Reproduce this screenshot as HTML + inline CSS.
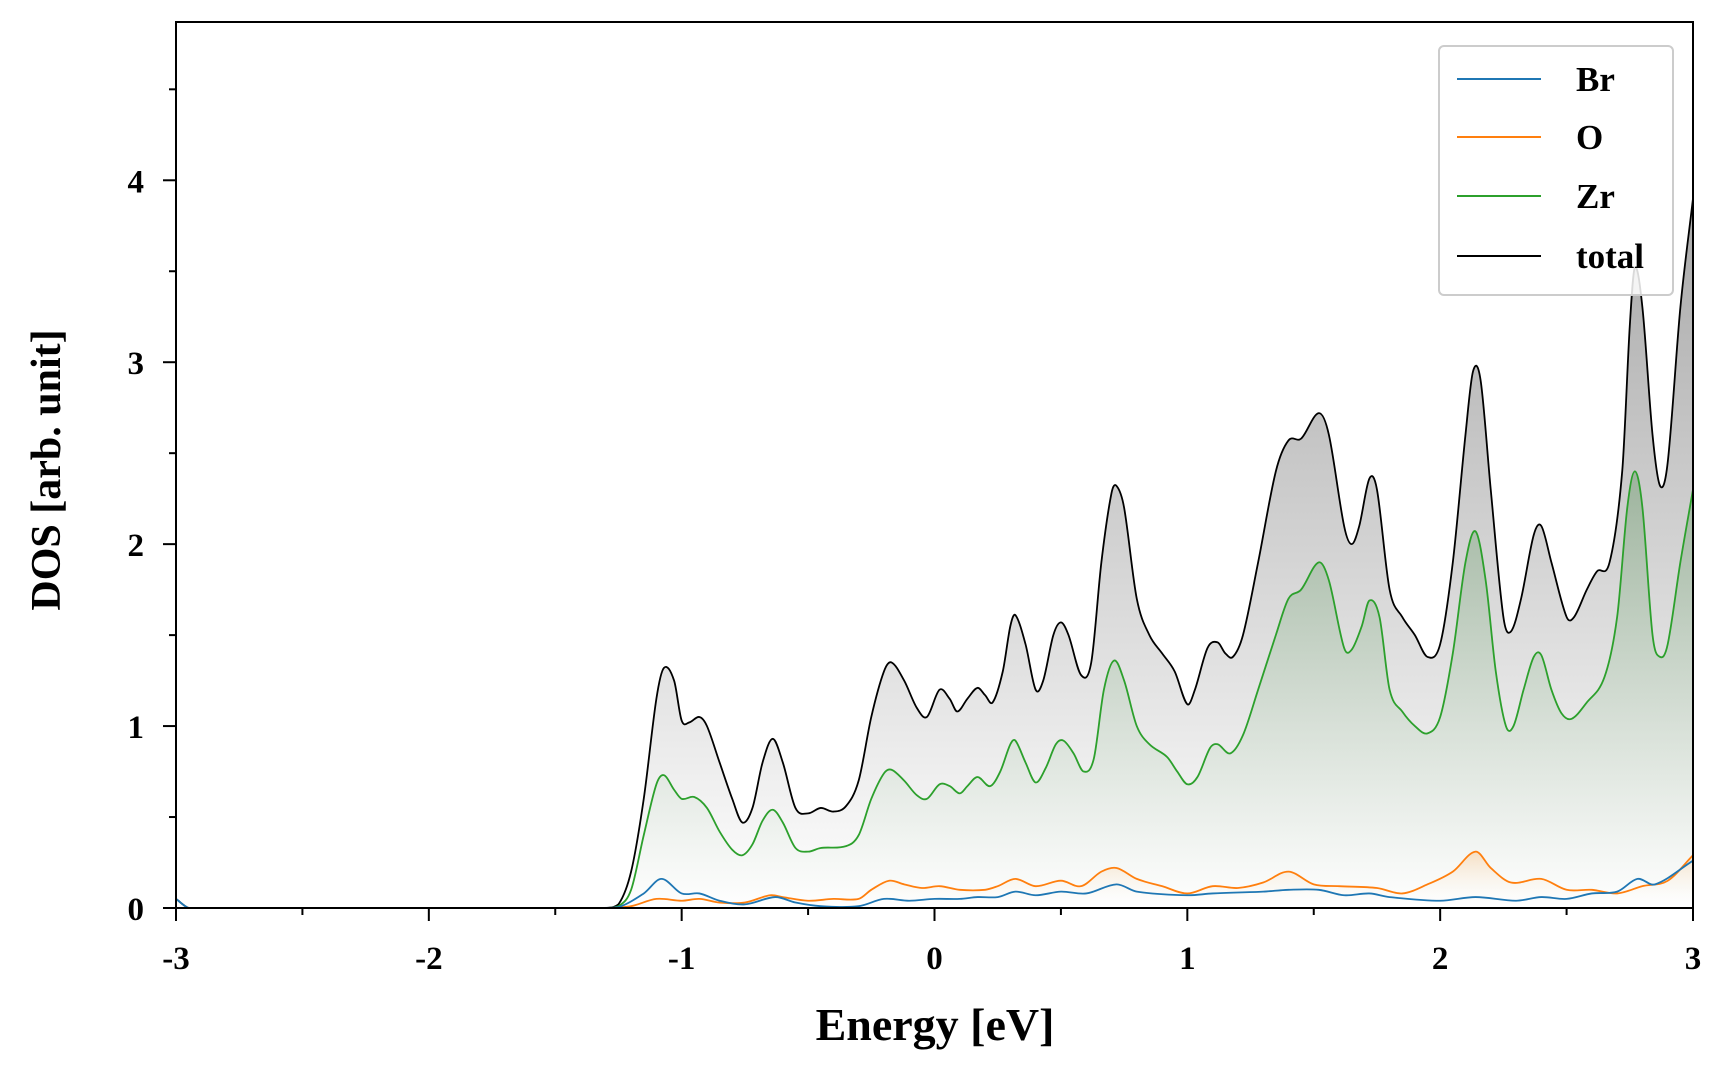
<!DOCTYPE html>
<html><head><meta charset="utf-8"><style>
html,body{margin:0;padding:0;background:#fff;}
svg{display:block;font-family:"Liberation Serif",serif;font-weight:bold;}
</style></head><body>
<svg id="chart" width="1728" height="1080">
<defs>
<linearGradient id="gTot" x1="0" y1="1" x2="0" y2="0"><stop offset="0" stop-color="#fff" stop-opacity="1"/><stop offset="1" stop-color="#a8a8a8"/></linearGradient>
<linearGradient id="gZr" x1="0" y1="1" x2="0" y2="0"><stop offset="0" stop-color="#fff" stop-opacity="0.3"/><stop offset="1" stop-color="#4a8a4a" stop-opacity="0.35"/></linearGradient>
<linearGradient id="gO" x1="0" y1="1" x2="0" y2="0"><stop offset="0" stop-color="#fff" stop-opacity="0"/><stop offset="1" stop-color="#ff9a30" stop-opacity="0.25"/></linearGradient>
<clipPath id="clip"><rect x="176" y="22" width="1517" height="886"/></clipPath>
</defs>
<g id="plot" clip-path="url(#clip)"></g>
<g id="axes"></g>
</svg>
<script>
const xTicks=[-3,-2,-1,0,1,2,3];
const yTicks=[0,1,2,3,4];
const totalE=[-3,-2.95,-2.9,-1.5,-1.35,-1.3,-1.25,-1.2,-1.15,-1.1,-1.07,-1.03,-1.0,-0.97,-0.93,-0.9,-0.85,-0.8,-0.76,-0.72,-0.68,-0.64,-0.6,-0.55,-0.5,-0.45,-0.4,-0.35,-0.3,-0.25,-0.2,-0.17,-0.12,-0.07,-0.03,0.02,0.06,0.09,0.13,0.17,0.2,0.23,0.27,0.3,0.32,0.36,0.4,0.43,0.47,0.5,0.53,0.58,0.62,0.66,0.7,0.72,0.75,0.8,0.85,0.9,0.95,1.0,1.03,1.08,1.12,1.15,1.18,1.22,1.28,1.35,1.4,1.45,1.52,1.56,1.62,1.65,1.68,1.72,1.75,1.8,1.85,1.9,1.95,2.0,2.05,2.1,2.13,2.16,2.2,2.25,2.28,2.32,2.37,2.4,2.44,2.5,2.53,2.58,2.62,2.67,2.72,2.75,2.77,2.8,2.84,2.87,2.9,2.95,3.0];
const totalV=[0.05,0,0,0,0,0,0.02,0.2,0.6,1.15,1.32,1.25,1.03,1.02,1.05,1.0,0.8,0.6,0.47,0.55,0.8,0.93,0.8,0.55,0.52,0.55,0.53,0.56,0.7,1.05,1.3,1.35,1.25,1.1,1.05,1.2,1.15,1.08,1.15,1.21,1.17,1.13,1.3,1.55,1.61,1.45,1.2,1.25,1.5,1.57,1.5,1.28,1.35,1.9,2.28,2.32,2.2,1.7,1.5,1.4,1.3,1.12,1.2,1.43,1.46,1.4,1.38,1.5,1.9,2.4,2.57,2.58,2.72,2.6,2.1,2.0,2.1,2.36,2.3,1.75,1.6,1.5,1.38,1.45,1.9,2.6,2.95,2.9,2.3,1.6,1.52,1.7,2.05,2.1,1.9,1.6,1.6,1.75,1.85,1.9,2.4,3.2,3.52,3.3,2.6,2.32,2.45,3.3,3.9];
const zrE=[-3,-2.9,-1.5,-1.3,-1.25,-1.2,-1.15,-1.1,-1.07,-1.03,-1.0,-0.95,-0.9,-0.85,-0.8,-0.76,-0.72,-0.68,-0.64,-0.6,-0.55,-0.5,-0.45,-0.35,-0.3,-0.25,-0.2,-0.17,-0.12,-0.07,-0.03,0.02,0.06,0.1,0.13,0.17,0.22,0.26,0.3,0.32,0.36,0.4,0.44,0.48,0.51,0.55,0.59,0.63,0.67,0.71,0.75,0.8,0.85,0.92,0.96,1.0,1.04,1.09,1.12,1.17,1.22,1.28,1.35,1.4,1.45,1.52,1.56,1.62,1.65,1.69,1.72,1.76,1.8,1.85,1.9,1.95,2.0,2.05,2.1,2.14,2.18,2.22,2.26,2.29,2.33,2.37,2.4,2.44,2.48,2.52,2.58,2.65,2.7,2.74,2.77,2.8,2.84,2.87,2.9,2.95,3.0];
const zrV=[0,0,0,0,0.01,0.1,0.4,0.68,0.73,0.65,0.6,0.61,0.55,0.42,0.32,0.29,0.35,0.48,0.54,0.47,0.33,0.31,0.33,0.34,0.4,0.6,0.74,0.76,0.7,0.62,0.6,0.68,0.67,0.63,0.67,0.72,0.67,0.75,0.9,0.92,0.8,0.69,0.77,0.9,0.92,0.85,0.75,0.82,1.2,1.36,1.25,1.0,0.9,0.83,0.75,0.68,0.72,0.88,0.9,0.85,0.95,1.2,1.5,1.7,1.75,1.9,1.8,1.43,1.42,1.55,1.69,1.6,1.2,1.08,1.0,0.96,1.05,1.4,1.9,2.07,1.8,1.3,1.0,1.0,1.2,1.38,1.39,1.2,1.07,1.04,1.13,1.27,1.6,2.2,2.4,2.2,1.5,1.38,1.45,1.9,2.3];
const oE=[-3,-2.9,-1.5,-1.3,-1.2,-1.1,-1.0,-0.93,-0.85,-0.75,-0.65,-0.6,-0.5,-0.4,-0.3,-0.25,-0.18,-0.12,-0.05,0.02,0.1,0.2,0.25,0.32,0.4,0.5,0.58,0.66,0.72,0.8,0.9,1.0,1.1,1.2,1.3,1.4,1.5,1.6,1.75,1.85,1.95,2.05,2.14,2.2,2.28,2.4,2.5,2.6,2.7,2.8,2.9,3.0];
const oV=[0,0,0,0,0.01,0.05,0.04,0.05,0.03,0.03,0.07,0.06,0.04,0.05,0.05,0.1,0.15,0.13,0.11,0.12,0.1,0.1,0.12,0.16,0.12,0.15,0.12,0.2,0.22,0.16,0.12,0.08,0.12,0.11,0.14,0.2,0.13,0.12,0.11,0.08,0.13,0.2,0.31,0.22,0.14,0.16,0.1,0.1,0.08,0.12,0.15,0.29];
const brE=[-3,-2.95,-2.9,-1.5,-1.35,-1.25,-1.15,-1.08,-1.0,-0.93,-0.85,-0.75,-0.63,-0.55,-0.45,-0.3,-0.2,-0.1,0.0,0.1,0.17,0.25,0.32,0.4,0.5,0.6,0.72,0.8,1.0,1.1,1.3,1.4,1.52,1.62,1.72,1.8,2.0,2.14,2.3,2.4,2.5,2.6,2.7,2.78,2.85,3.0];
const brV=[0.05,0,0,0,0,0.005,0.08,0.16,0.08,0.08,0.04,0.02,0.06,0.03,0.01,0.01,0.05,0.04,0.05,0.05,0.06,0.06,0.09,0.07,0.09,0.08,0.13,0.09,0.07,0.08,0.09,0.1,0.1,0.07,0.08,0.06,0.04,0.06,0.04,0.06,0.05,0.08,0.09,0.16,0.13,0.26];

const X0=176,X1=1693,Y0=908,Y1=22,EMIN=-3,EMAX=3,VMAX=4.87;
const sx=e=>X0+(e-EMIN)/(EMAX-EMIN)*(X1-X0);
const sy=v=>Y0-v/VMAX*(Y0-Y1);
const NS="http://www.w3.org/2000/svg";
function mk(t,a,p){const el=document.createElementNS(NS,t);for(const k in a)el.setAttribute(k,a[k]);p.appendChild(el);return el;}
function pathD(E,V){
  const P=E.map((e,i)=>[sx(e),sy(V[i])]);
  let d=`M${P[0][0]},${P[0][1]}`;
  for(let i=0;i<P.length-1;i++){
    const p0=P[Math.max(0,i-1)],p1=P[i],p2=P[i+1],p3=P[Math.min(P.length-1,i+2)];
    const h=p2[0]-p1[0];
    const m1=(p2[1]-p0[1])/((p2[0]-p0[0])||1), m2=(p3[1]-p1[1])/((p3[0]-p1[0])||1);
    let c1y=Math.min(p1[1]+m1*h/3,Y0),c2y=Math.min(p2[1]-m2*h/3,Y0);
    d+=` C${p1[0]+h/3},${c1y} ${p2[0]-h/3},${c2y} ${p2[0]},${p2[1]}`;
  }
  return d;
}
const plot=document.getElementById('plot'),axes=document.getElementById('axes');
const series=[
 {n:'total',E:totalE,V:totalV,c:'#000',f:'url(#gTot)'},
 {n:'zr',E:zrE,V:zrV,c:'#2ca02c',f:'url(#gZr)'},
 {n:'o',E:oE,V:oV,c:'#ff7f0e',f:'url(#gO)'},
 {n:'br',E:brE,V:brV,c:'#1f77b4',f:'none'}];
series.forEach(s=>{
  const d=pathD(s.E,s.V);
  if(s.f!=='none'){
    const a=mk('path',{d:d+` L${sx(s.E[s.E.length-1])},${Y0} L${sx(s.E[0])},${Y0} Z`,fill:s.f,stroke:'none'},plot);
    
    
  }
  const l=mk('path',{d:d,fill:'none',stroke:s.c,'stroke-width':1.8},plot);
  
  
});
const frame=mk('rect',{x:X0,y:Y1,width:X1-X0,height:Y0-Y1,fill:'none',stroke:'#000','stroke-width':2},axes);


for(let e=-3;e<=3.001;e+=0.5){
  const maj=Math.abs(e-Math.round(e))<1e-6;
  mk('line',{x1:sx(e),x2:sx(e),y1:Y0,y2:Y0+(maj?13:7),stroke:'#000','stroke-width':2},axes);
}
xTicks.forEach(e=>{
  const t=mk('text',{x:sx(e),y:969,'text-anchor':'middle','font-size':33},axes);t.textContent=e;
  
  
});
for(let v=0;v<=4.51;v+=0.5){
  const maj=Math.abs(v-Math.round(v))<1e-6;
  mk('line',{x1:X0,x2:X0-(maj?13:7),y1:sy(v),y2:sy(v),stroke:'#000','stroke-width':2},axes);
}
yTicks.forEach(v=>{
  const t=mk('text',{x:144,y:sy(v)+12,'text-anchor':'end','font-size':33},axes);t.textContent=v;
  
  
});
</script>
<svg style="position:absolute;left:0;top:0" width="1728" height="1080">
<text x="935" y="1040" text-anchor="middle" font-size="46" font-family="Liberation Serif" font-weight="bold">Energy [eV]</text>
<text transform="translate(60,470) rotate(-90)" text-anchor="middle" font-size="42" font-family="Liberation Serif" font-weight="bold">DOS [arb. unit]</text>
<g font-family="Liberation Serif" font-weight="bold" font-size="35">
<rect x="1439" y="46" width="234" height="249" rx="5" fill="#fff" fill-opacity="0.85" stroke="#ccc" stroke-width="2"/>
<line x1="1457" x2="1541" y1="79" y2="79" stroke="#1f77b4" stroke-width="2"/><text x="1576" y="91">Br</text>
<line x1="1457" x2="1541" y1="137" y2="137" stroke="#ff7f0e" stroke-width="2"/><text x="1576" y="149">O</text>
<line x1="1457" x2="1541" y1="196" y2="196" stroke="#2ca02c" stroke-width="2"/><text x="1576" y="208">Zr</text>
<line x1="1457" x2="1541" y1="256" y2="256" stroke="#000" stroke-width="2"/><text x="1576" y="268">total</text>
</g>
</svg>
</body></html>
